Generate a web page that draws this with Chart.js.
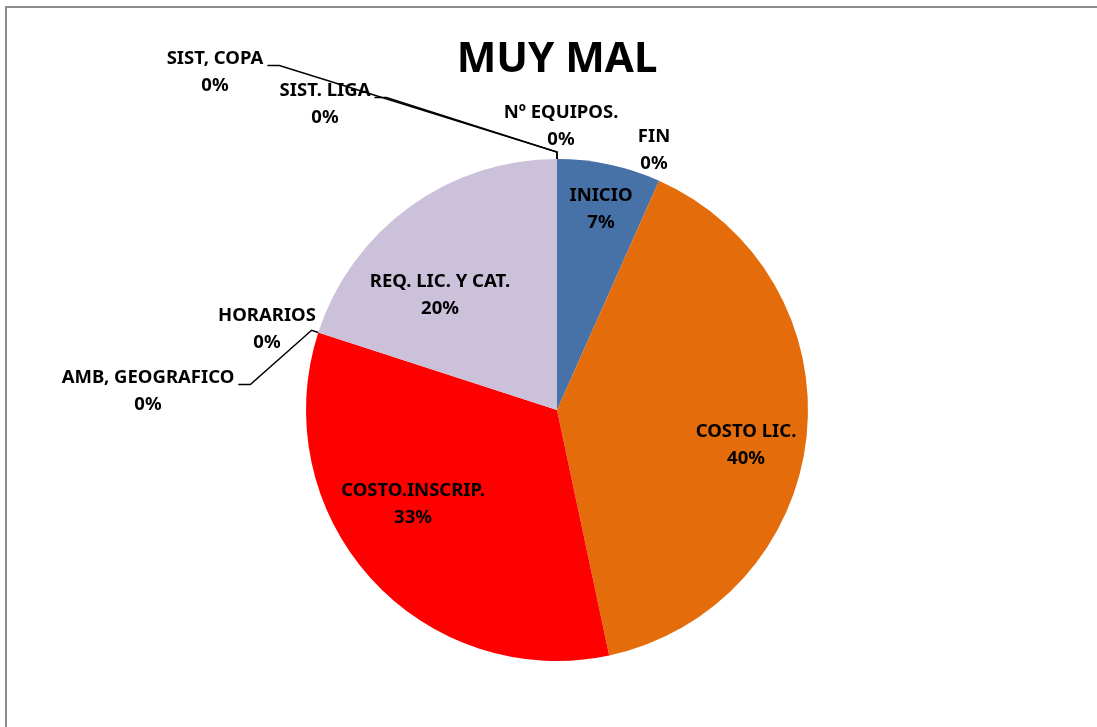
<!DOCTYPE html>
<html>
<head>
<meta charset="utf-8">
<script src="https://cdn.jsdelivr.net/npm/chart.js@4.4.1/dist/chart.umd.min.js"></script>
<style>
html, body { margin: 0; padding: 0; background: #fff; overflow: hidden; }
canvas { display: block; }
</style>
</head>
<body>
<canvas id="pie" width="1097" height="727"></canvas>
<script>
const titleText = 'MUY MAL'
const categories = ['INICIO', 'FIN', 'COSTO LIC.', 'COSTO.INSCRIP.', 'AMB, GEOGRAFICO',
                    'HORARIOS', 'REQ. LIC. Y CAT.', 'SIST. LIGA', 'SIST, COPA', 'Nº EQUIPOS.']
const values = [1, 0, 6, 5, 0, 0, 3, 0, 0, 0]
const sliceColors = ['#4672a8', '#a9a9a9', '#e46c0a', '#ff0000', '#9bbb59',
                     '#8064a2', '#ccc1da', '#4bacc6', '#f79646', '#1f497d']

// where each label sits, offset from the pie centre (px at radius 251), and whether it gets a leader line
const labelPlace = [
    { dx: 44,   dy: -201, leader: false },
    { dx: 97,   dy: -260, leader: false },
    { dx: 189,  dy: 35,   leader: false },
    { dx: -144, dy: 94,   leader: false },
    { dx: -409, dy: -19,  leader: true  },
    { dx: -290, dy: -81,  leader: false },
    { dx: -117, dy: -115, leader: false },
    { dx: -232, dy: -306, leader: true  },
    { dx: -342, dy: -338, leader: true  },
    { dx: 4,    dy: -284, leader: false },
]

const total = values.reduce((a, b) => a + b, 0)
const FONT = 'Noto Sans'
const LABEL_FONT = 'bold 18.5px "Noto Sans"'
const LINE_GAP = 27

// grey frame on the left and top edges, like the spreadsheet chart box
const frame = {
    id: 'frame',
    beforeDraw(chart) {
        const ctx = chart.ctx
        ctx.save()
        ctx.strokeStyle = '#8c8c8c'
        ctx.lineWidth = 2
        ctx.beginPath()
        ctx.moveTo(6, chart.height)
        ctx.lineTo(6, 7)
        ctx.lineTo(chart.width, 7)
        ctx.stroke()
        ctx.restore()
    }
}

const pieLabels = {
    id: 'pieLabels',
    afterDatasetsDraw(chart) {
        const ctx = chart.ctx
        const meta = chart.getDatasetMeta(0)
        ctx.save()
        ctx.font = LABEL_FONT
        ctx.fillStyle = '#000'
        ctx.textAlign = 'center'
        ctx.textBaseline = 'middle'
        meta.data.forEach((arc, i) => {
            const p = labelPlace[i]
            const k = arc.outerRadius / 251
            const cx = arc.x + p.dx * k
            const cy = arc.y + p.dy * k
            const line1 = categories[i]
            const line2 = Math.round(values[i] / total * 100) + '%'
            ctx.fillText(line1, cx, cy - LINE_GAP / 2)
            ctx.fillText(line2, cx, cy + LINE_GAP / 2)
            if (p.leader) {
                const w = ctx.measureText(line1).width
                const sx = cx + w / 2 + 4
                const sy = cy - LINE_GAP / 2 + 7
                const a = (arc.startAngle + arc.endAngle) / 2
                const ex = arc.x + Math.cos(a) * arc.outerRadius
                const ey = arc.y + Math.sin(a) * arc.outerRadius
                const mx = arc.x + Math.cos(a) * (arc.outerRadius + 7)
                const my = arc.y + Math.sin(a) * (arc.outerRadius + 7)
                ctx.beginPath()
                ctx.lineWidth = 1.5
                ctx.strokeStyle = '#000'
                ctx.moveTo(sx, sy)
                ctx.lineTo(sx + 12, sy)
                ctx.lineTo(mx, my)
                ctx.lineTo(ex, ey)
                ctx.stroke()
            }
        })
        ctx.restore()
    }
}

new Chart(document.getElementById('pie'), {
    type: 'pie',
    data: {
        labels: categories,
        datasets: [{
            data: values,
            backgroundColor: sliceColors,
            borderWidth: 0,
            hoverOffset: 0,
            offset: 0,
        }]
    },
    options: {
        responsive: false,
        animation: false,
        layout: { padding: { top: 10, bottom: 66, left: 100, right: 83 } },
        plugins: {
            legend: { display: false },
            tooltip: { enabled: false },
            title: {
                display: true,
                text: titleText,
                color: '#000',
                font: { family: FONT, size: 42, weight: 'bold', lineHeight: 1.2 },
                padding: { top: 25, bottom: 73.6 },
            },
        },
    },
    plugins: [frame, pieLabels],
})
</script>
</body>
</html>
